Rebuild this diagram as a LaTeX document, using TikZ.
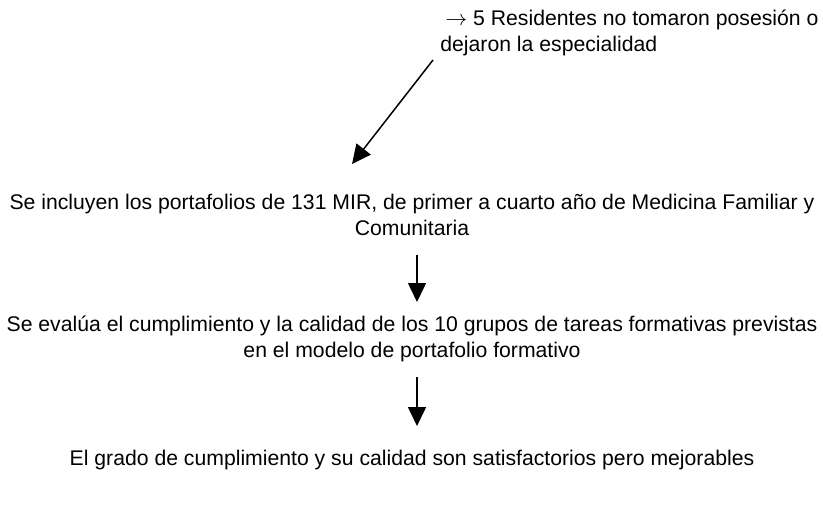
\documentclass[tikz,border=0pt]{standalone}
\usepackage{fontspec}
\setmainfont{Liberation Sans}
\usetikzlibrary{arrows.meta,positioning}

\begin{document}
\begin{tikzpicture}[x=0.5pt,y=-0.5pt,>={Triangle[length=9.5pt,width=9pt]},
    txt/.style={inner sep=0pt,font=\fontsize{10.6}{13}\selectfont},
    flow/.style={->,line width=0.75pt}]
    \useasboundingbox (0,0) rectangle (823,511);
    \node[txt,align=left,anchor=north west] (note) at (440,9)
        {\hspace{2.5pt}$\rightarrow$ 5 Residentes no tomaron posesión o\\dejaron la especialidad};
    \node[txt,align=center] (inclusion) at (412,215)
        {Se incluyen los portafolios de 131 MIR, de primer a cuarto año de Medicina Familiar y\\Comunitaria};
    \node[txt,align=center] (evaluation) at (412,339)
        {Se evalúa el cumplimiento y la calidad de los 10 grupos de tareas formativas previstas\\en el modelo de portafolio formativo};
    \node[txt] (result) at (412,460)
        {El grado de cumplimiento y su calidad son satisfactorios pero mejorables};

    \coordinate (from1) at (433,60);
    \coordinate (to1) at (352,164);
    \coordinate (from2) at (417,255);
    \coordinate (to2) at (417,302);
    \coordinate (from3) at (417,377);
    \coordinate (to3) at (417,426);

    \draw[flow] (from1) -- (to1);
    \draw[flow] (from2) -- (to2);
    \draw[flow] (from3) -- (to3);
\end{tikzpicture}
\end{document}
